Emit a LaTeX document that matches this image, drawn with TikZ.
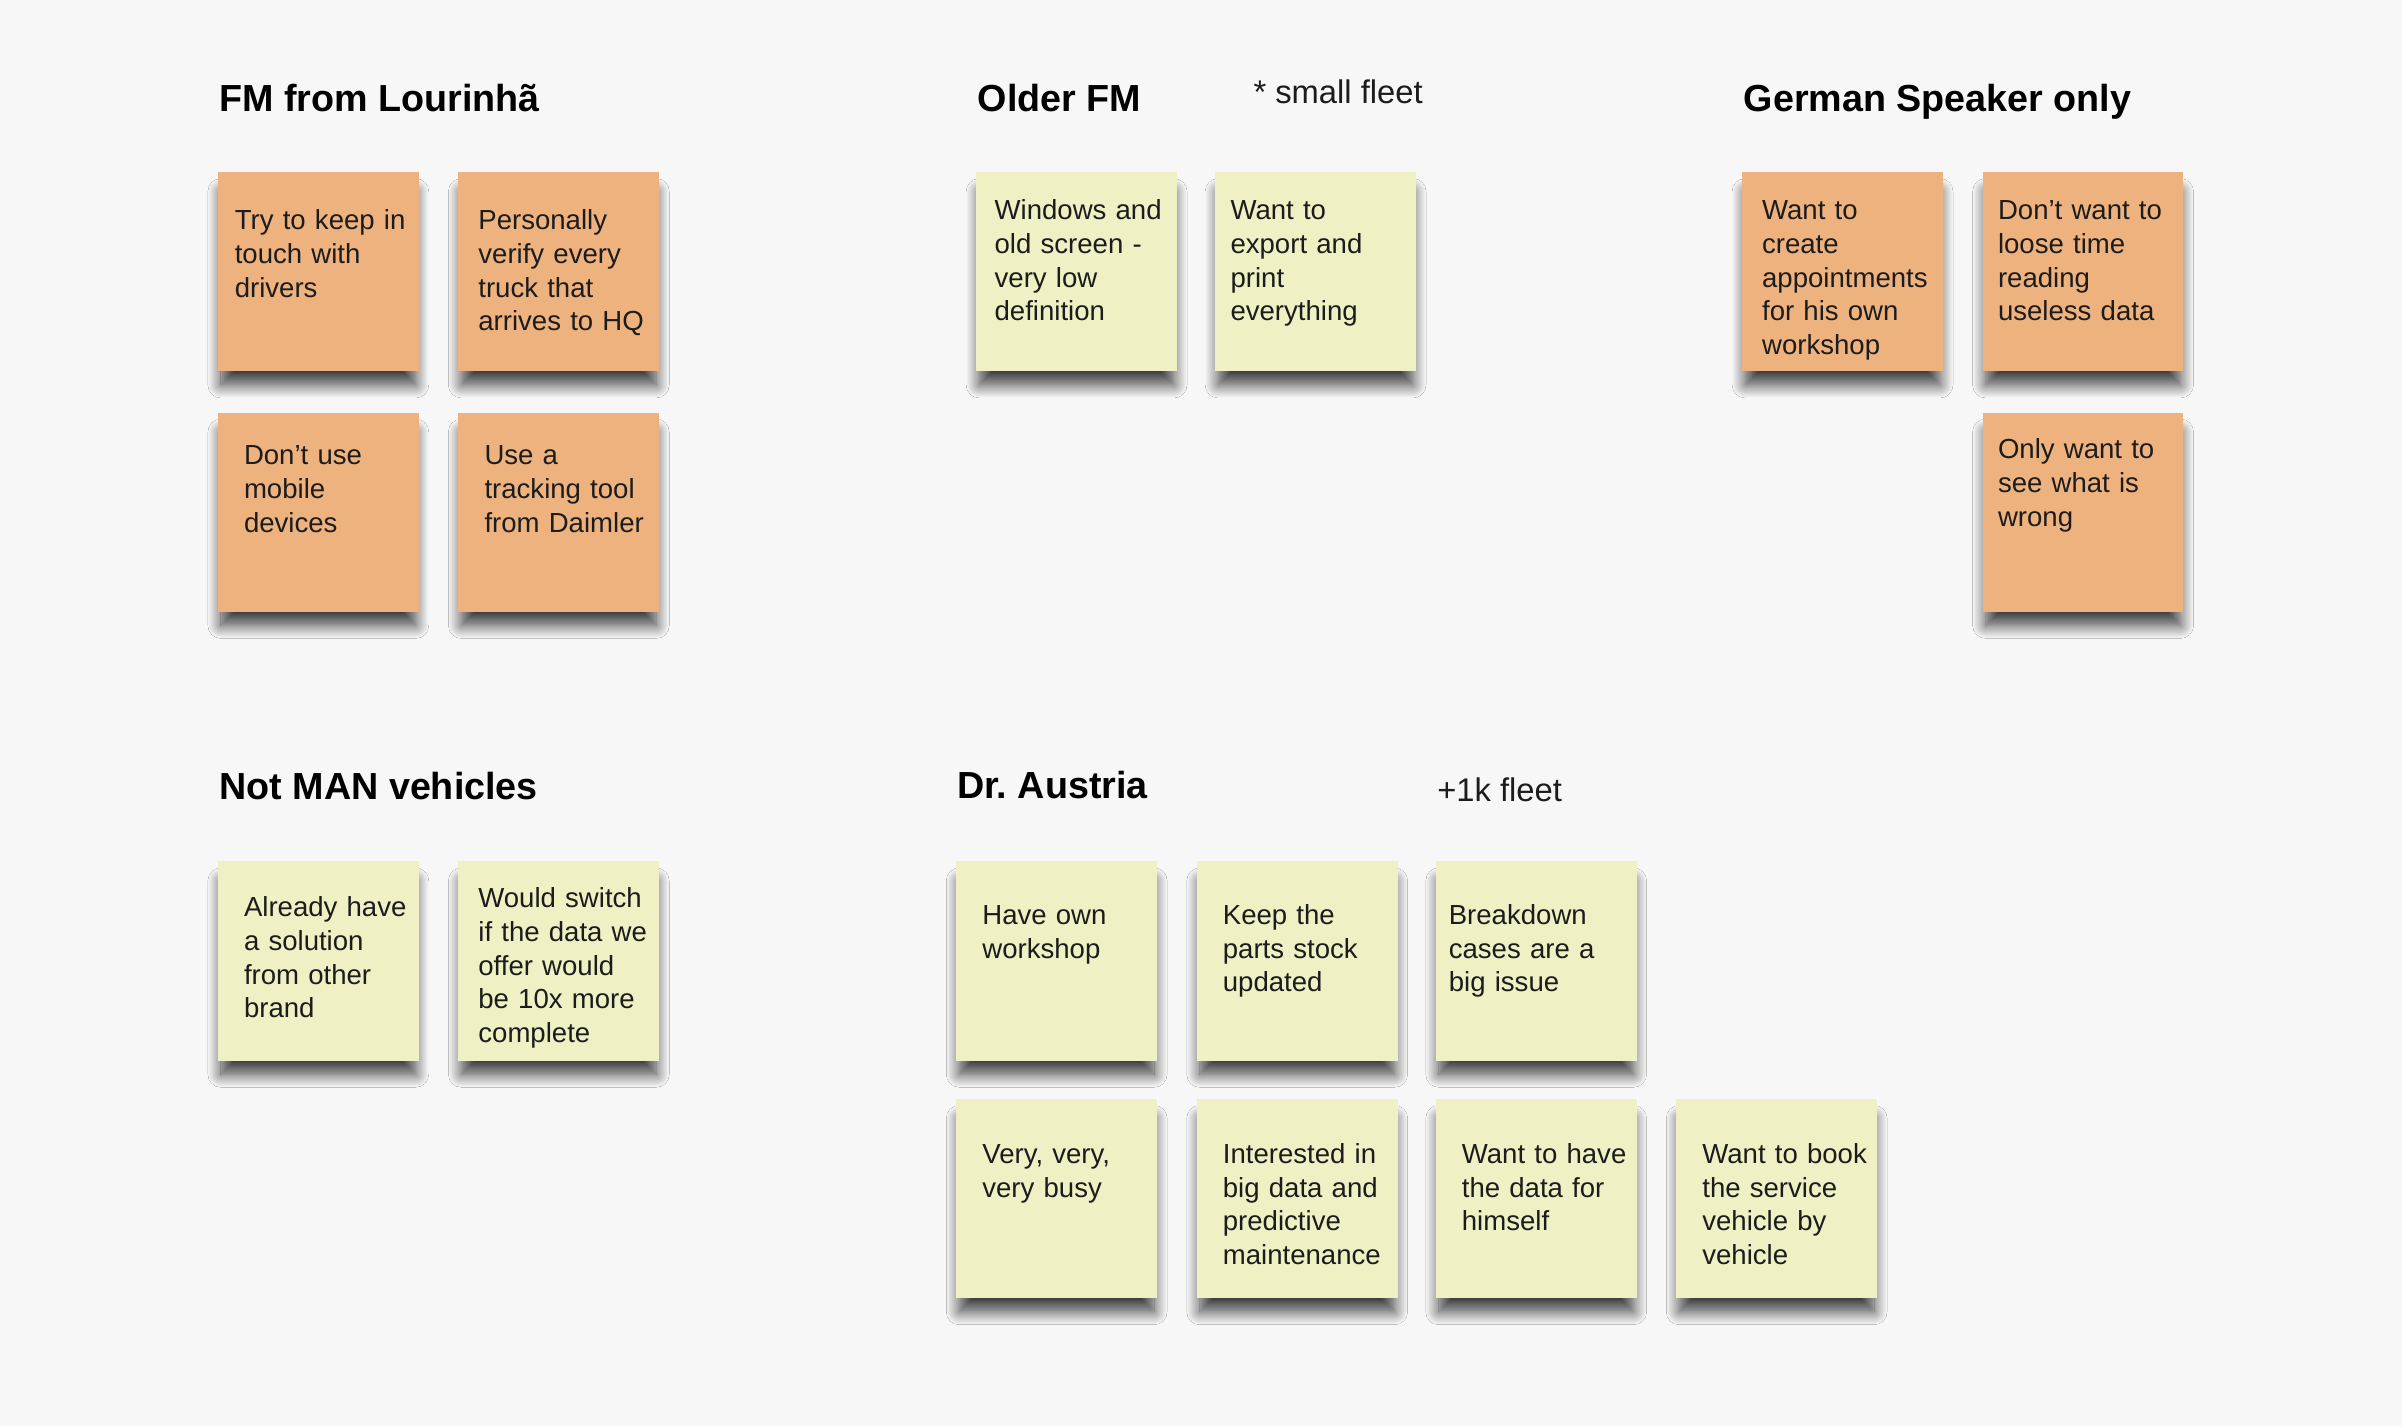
\documentclass[tikz,border=0pt]{standalone}
\usepackage{fontspec}
\setmainfont{Liberation Sans}
\usepackage{xcolor}
\usepackage{tikz}
\usetikzlibrary{calc, positioning, shadows.blur}
\frenchspacing

\definecolor{boardbg}{RGB}{247,247,247}
\definecolor{noteorange}{RGB}{238,178,126}
\definecolor{noteyellow}{RGB}{240,240,197}
\definecolor{inktext}{RGB}{28,28,28}

\tikzset{
    sticky/.style={anchor=north west, inner sep=0pt, minimum width=3.275cm, minimum height=3.25cm,
        blur shadow={shadow xshift=0pt, shadow yshift=-0.28cm, shadow scale=0.97,
            shadow blur radius=0.22cm, shadow blur steps=16, shadow opacity=75}},
    orangenote/.style={sticky, fill=noteorange},
    yellownote/.style={sticky, fill=noteyellow},
    notetext/.style={anchor=base west, inner sep=0pt, text width=3.15cm, align=left, text=inktext,
        font=\fontsize{12.8}{15.65}\selectfont},
    grouptitle/.style={anchor=base west, inner sep=0pt, font=\fontsize{17.5}{21}\selectfont\bfseries},
    groupnote/.style={anchor=base west, inner sep=0pt, text=inktext, font=\fontsize{15.2}{18}\selectfont}
}

\begin{document}
\begin{tikzpicture}[x=0.025cm, y=-0.025cm]

    % =================================================================
    % 1. BOARD AND CORNERS OF THE STICKY NOTES
    % =================================================================
    \fill[boardbg] (0,0) rectangle (1568,931);
    \useasboundingbox (0,0) rectangle (1568,931);

    % FM from Lourinha
    \coordinate (F1) at (142,112);
    \coordinate (F2) at (299,112);
    \coordinate (F3) at (142,269);
    \coordinate (F4) at (299,269);

    % Older FM
    \coordinate (O1) at (637,112);
    \coordinate (O2) at (793,112);

    % German speaker
    \coordinate (G1) at (1137,112);
    \coordinate (G2) at (1294,112);
    \coordinate (G3) at (1294,269);

    % Not MAN vehicles
    \coordinate (M1) at (142,562);
    \coordinate (M2) at (299,562);

    % Dr. Austria
    \coordinate (D1) at (624,562);
    \coordinate (D2) at (781,562);
    \coordinate (D3) at (937,562);
    \coordinate (D4) at (624,717);
    \coordinate (D5) at (781,717);
    \coordinate (D6) at (937,717);
    \coordinate (D7) at (1094,717);

    % =================================================================
    % 2. GROUP TITLES
    % =================================================================
    \node[grouptitle] (titleF) at (143,73) {FM from Lourinhã};
    \node[grouptitle] (titleO) at (638,73) {Older FM};
    \node[groupnote]  (fleetO) at (818,67.5) {* small fleet};
    \node[grouptitle] (titleG) at (1138,72.5) {German Speaker only};
    \node[grouptitle] (titleM) at (143,522) {Not MAN vehicles};
    \node[grouptitle] (titleD) at (624.5,521.5) {Dr. Austria};
    \node[groupnote]  (fleetD) at (938,523) {+1k fleet};

    % =================================================================
    % 3. STICKY NOTES
    % =================================================================
    \node[orangenote] (noteF1) at (F1) {};
    \node[orangenote] (noteF2) at (F2) {};
    \node[orangenote] (noteF3) at (F3) {};
    \node[orangenote] (noteF4) at (F4) {};

    \node[yellownote] (noteO1) at (O1) {};
    \node[yellownote] (noteO2) at (O2) {};

    \node[orangenote] (noteG1) at (G1) {};
    \node[orangenote] (noteG2) at (G2) {};
    \node[orangenote] (noteG3) at (G3) {};

    \node[yellownote] (noteM1) at (M1) {};
    \node[yellownote] (noteM2) at (M2) {};

    \node[yellownote] (noteD1) at (D1) {};
    \node[yellownote] (noteD2) at (D2) {};
    \node[yellownote] (noteD3) at (D3) {};
    \node[yellownote] (noteD4) at (D4) {};
    \node[yellownote] (noteD5) at (D5) {};
    \node[yellownote] (noteD6) at (D6) {};
    \node[yellownote] (noteD7) at (D7) {};

    % =================================================================
    % 4. TEXT ON THE NOTES
    % =================================================================
    \node[notetext] (textF1) at ($(F1)+(11,38)$) {Try to keep in\\touch with\\drivers};
    \node[notetext] (textF2) at ($(F2)+(13,38)$) {Personally\\verify every\\truck that\\arrives to HQ};
    \node[notetext] (textF3) at ($(F3)+(17,34.5)$) {Don’t use\\mobile\\devices};
    \node[notetext] (textF4) at ($(F4)+(17,34.5)$) {Use a\\tracking tool\\from Daimler};

    \node[notetext] (textO1) at ($(O1)+(12,31.5)$) {Windows and\\old screen -\\very low\\definition};
    \node[notetext] (textO2) at ($(O2)+(10,31.5)$) {Want to\\export and\\print\\everything};

    \node[notetext] (textG1) at ($(G1)+(13,31.5)$) {Want to\\create\\appointments\\for his own\\workshop};
    \node[notetext] (textG2) at ($(G2)+(10,31.5)$) {Don’t want to\\loose time\\reading\\useless data};
    \node[notetext] (textG3) at ($(G3)+(10,30.5)$) {Only want to\\see what is\\wrong};

    \node[notetext] (textM1) at ($(M1)+(17,36.5)$) {Already have\\a solution\\from other\\brand};
    \node[notetext] (textM2) at ($(M2)+(13,30.5)$) {Would switch\\if the data we\\offer would\\be 10x more\\complete};

    \node[notetext] (textD1) at ($(D1)+(17,41.5)$) {Have own\\workshop};
    \node[notetext] (textD2) at ($(D2)+(17,41.5)$) {Keep the\\parts stock\\updated};
    \node[notetext] (textD3) at ($(D3)+(8.5,41.5)$) {Breakdown\\cases are a\\big issue};
    \node[notetext] (textD4) at ($(D4)+(17,42.5)$) {Very, very,\\very busy};
    \node[notetext] (textD5) at ($(D5)+(17,42.5)$) {Interested in\\big data and\\predictive\\maintenance};
    \node[notetext] (textD6) at ($(D6)+(17,42.5)$) {Want to have\\the data for\\himself};
    \node[notetext] (textD7) at ($(D7)+(17,42.5)$) {Want to book\\the service\\vehicle by\\vehicle};

\end{tikzpicture}
\end{document}
